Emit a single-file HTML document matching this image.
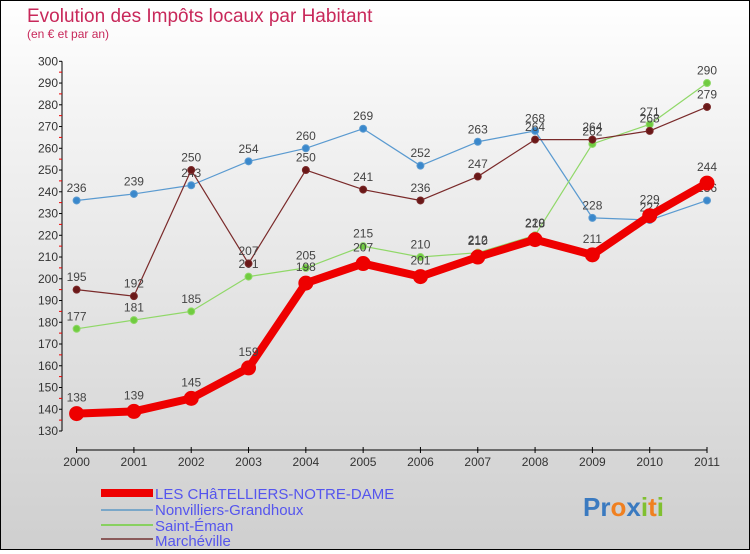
<!DOCTYPE html>
<html><head><meta charset="utf-8"><style>
html,body{margin:0;padding:0}
body{width:750px;height:550px;overflow:hidden;font-family:"Liberation Sans",sans-serif}
#wrap{position:relative;width:748px;height:548px;border:1px solid #000;background:linear-gradient(#ffffff,#f4f4f4 20%,#cfcfcf)}
</style></head><body>
<div id="wrap">
<svg id="chart" width="748" height="548" xmlns="http://www.w3.org/2000/svg">
<text x="26" y="21" font-size="19" fill="#c8285a">Evolution des Impôts locaux par Habitant</text>
<text x="26" y="37" font-size="12" fill="#c8285a">(en € et par an)</text>
<g id="axes"></g><g id="series"></g>
<g>
<rect x="100" y="488" width="52" height="8" fill="#e00"/>
<text x="154" y="498" font-size="15" fill="#5555ee">LES CHâTELLIERS-NOTRE-DAME</text>
<line x1="100" y1="509" x2="152" y2="509" stroke="#7aa7c8" stroke-width="2"/>
<text x="154" y="514" font-size="15" fill="#5555ee">Nonvilliers-Grandhoux</text>
<line x1="100" y1="524" x2="152" y2="524" stroke="#88d060" stroke-width="2"/>
<text x="154" y="530" font-size="15" fill="#5555ee">Saint-Éman</text>
<line x1="100" y1="538" x2="152" y2="538" stroke="#8a5a5a" stroke-width="2"/>
<text x="154" y="545" font-size="15" fill="#5555ee">Marchéville</text>
</g>
<text x="582" y="515" font-size="26" font-weight="bold"><tspan fill="#3a7ac0">Pr</tspan><tspan fill="#f08020">o</tspan><tspan fill="#3a7ac0">x</tspan><tspan fill="#80c030">i</tspan><tspan fill="#f08020">t</tspan><tspan fill="#80c030">i</tspan></text>
</svg></div>
<script>
const years=[2000,2001,2002,2003,2004,2005,2006,2007,2008,2009,2010,2011];
const yTicks=[130,140,150,160,170,180,190,200,210,220,230,240,250,260,270,280,290,300];
const chatelliers=[138,139,145,159,198,207,201,210,218,211,229,244];
const nonvilliers=[236,239,243,254,260,269,252,263,268,228,227,236];
const saintEman=[177,181,185,201,205,215,210,212,220,262,271,290];
const marcheville=[195,192,250,207,250,241,236,247,264,264,268,279];
const NS="http://www.w3.org/2000/svg";
function xs(i){return 75.6+i*(706-75.6)/(years.length-1);}
function ys(v){return 430-(v-130)*(430-60.3)/170;}
function mk(tag,attrs,parent){const e=document.createElementNS(NS,tag);for(const k in attrs)e.setAttribute(k,attrs[k]);parent.appendChild(e);return e;}
const axes=document.getElementById('axes');
let a=mk('line',{x1:61,y1:ys(130),x2:61,y2:ys(300),stroke:'#000'},axes);


yTicks.forEach(t=>{
 const y=ys(t);
 const tk=mk('line',{x1:58,y1:y,x2:61,y2:y,stroke:'#000'},axes);
 
 
 if(t<300){const m=mk('line',{x1:58,y1:y-10.9,x2:61,y2:y-10.9,stroke:'#e00'},axes);
 
 }
 const tx=mk('text',{x:57,y:y+4,'font-size':12,'text-anchor':'end',fill:'#333'},axes);
 tx.textContent=t;
 
 
});
a=mk('line',{x1:xs(0),y1:449,x2:xs(11),y2:449,stroke:'#000'},axes);


years.forEach((yr,i)=>{
 const tk=mk('line',{x1:xs(i),y1:446,x2:xs(i),y2:452,stroke:'#000'},axes);
 
 
 const tx=mk('text',{x:xs(i),y:465,'font-size':12,'text-anchor':'middle',fill:'#333'},axes);
 tx.textContent=yr;
 
 
});
const sg=document.getElementById('series');
function draw(vals,name,color,dot,w,r){
 const g=mk('g',{},sg);
 
 
 const p=mk('polyline',{points:vals.map((v,i)=>xs(i)+','+ys(v)).join(' '),fill:'none',stroke:color,'stroke-width':w,'stroke-linejoin':'round'},g);
 
 
 vals.forEach((v,i)=>{
  const c=mk('circle',{cx:xs(i),cy:ys(v),r:r,fill:dot,stroke:color,'stroke-width':1},g);
  
  
  const t=mk('text',{x:xs(i),y:ys(v)-(r+5),'font-size':12,'text-anchor':'middle',fill:'#444'},g);
  t.textContent=v;
  
  
 });
}
draw(nonvilliers,'nonvilliers','#5a9ad0','#3a88cc',1.2,3.5);
draw(saintEman,'saint-eman','#90d868','#70cc40',1.2,3.5);
draw(marcheville,'marcheville','#7a2a2a','#6a1818',1.2,3.5);
draw(chatelliers,'chatelliers','#ee0000','#ee0000',8,7);
</script>
</body></html>
